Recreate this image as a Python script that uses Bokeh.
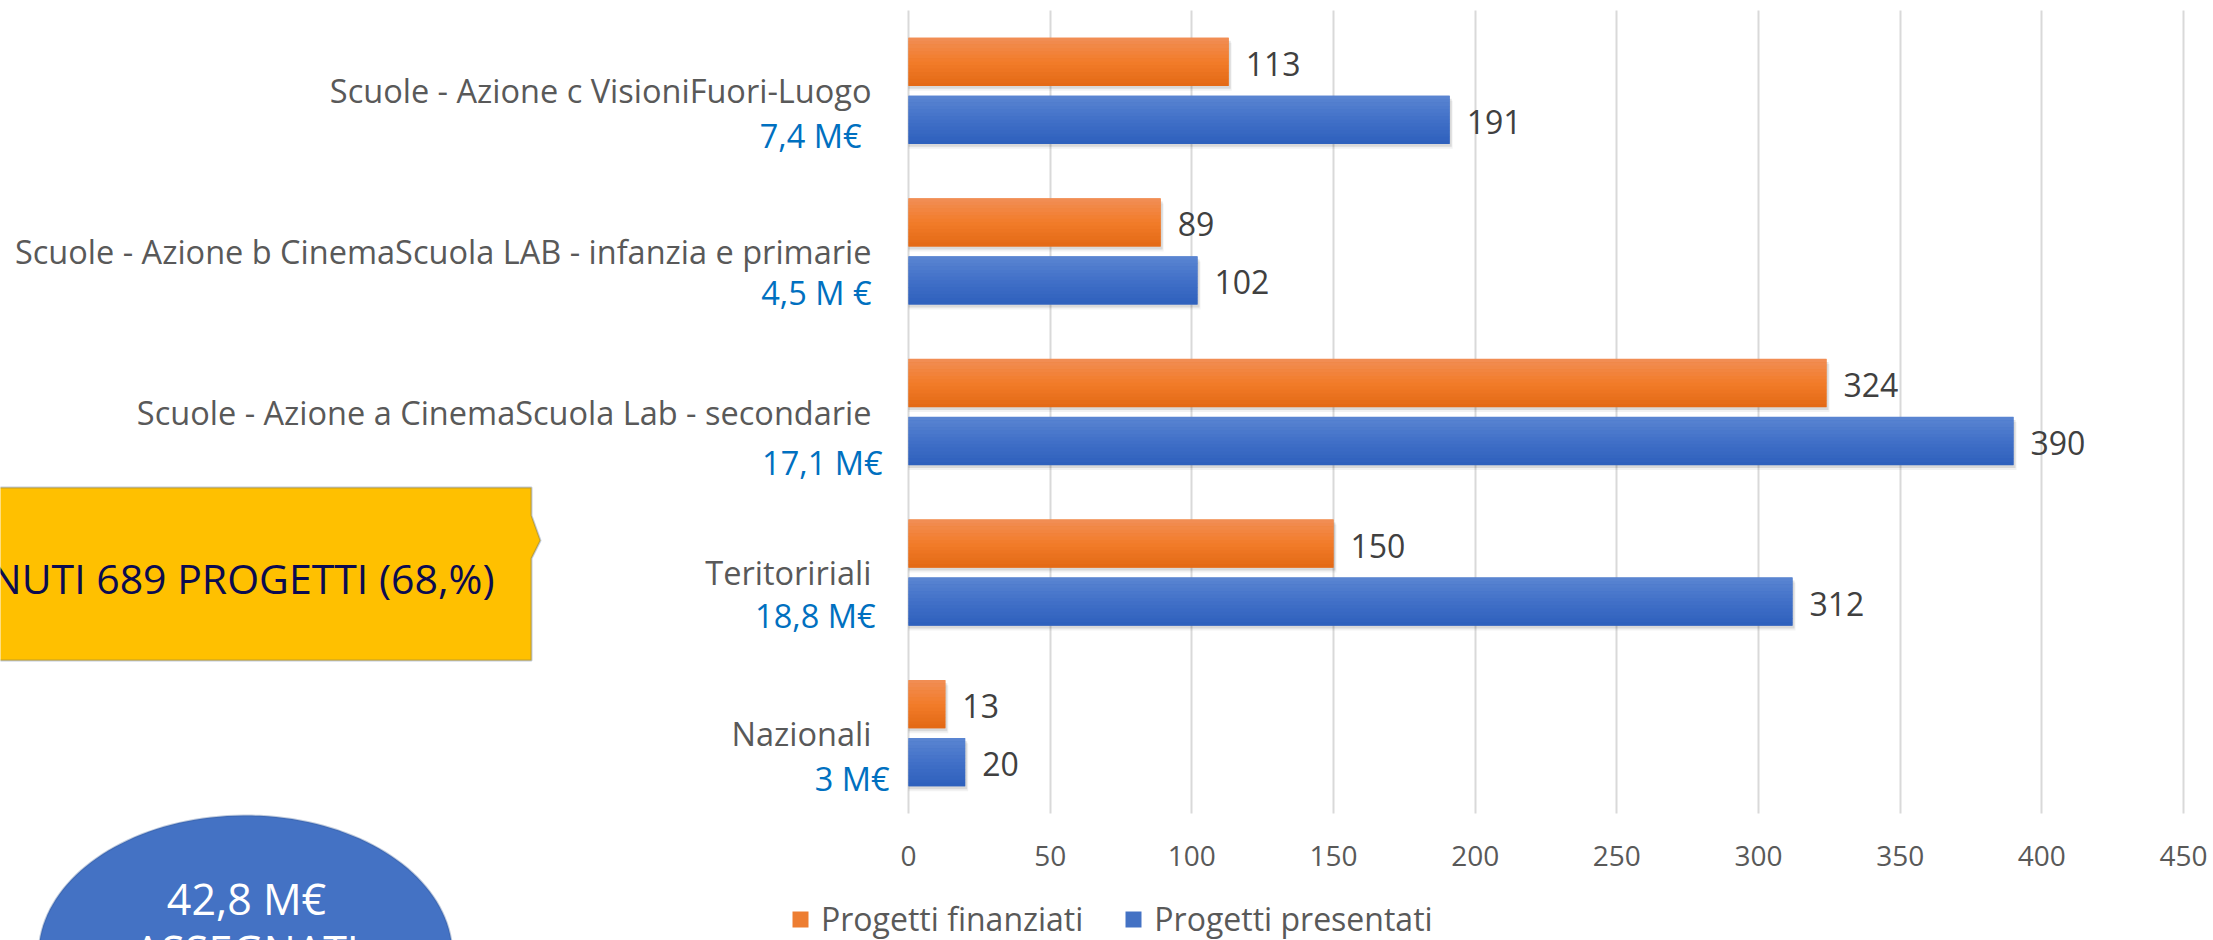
import numpy as np
from bokeh.plotting import figure
from bokeh.models import (Range1d, FixedTicker, ColumnDataSource, LabelSet, Label,
                          PolyAnnotation, Legend, LegendItem)
from bokeh.core.properties import value
from bokeh.embed import file_html
from bokeh.resources import INLINE

# ---------------- data ----------------
categories = [
    "Nazionali",
    "Teritoririali",
    "Scuole - Azione a CinemaScuola Lab - secondarie",
    "Scuole - Azione b CinemaScuola LAB - infanzia e primarie",
    "Scuole - Azione c VisioniFuori-Luogo",
]
budgets = ["3 M€", "18,8 M€", "17,1 M€", "4,5 M €", "7,4 M€"]
finanziati = [13, 150, 324, 89, 113]
presentati = [20, 312, 390, 102, 191]
series_names = ["Progetti finanziati", "Progetti presentati"]
x_ticks = [0, 50, 100, 150, 200, 250, 300, 350, 400, 450]
callout_text = "NUTI 689 PROGETTI (68,%)"
total_lines = ["42,8 M€", "ASSEGNATI"]

# ---------------- layout / style ----------------
FONT = "Open Sans"
W, H = 2213, 940
n = len(categories)
PX0, KX = 908.0, 1275.0 / 450.0     # pixel of value 0, pixels per unit
PY0, KY = 813.0, 803.0 / n          # pixel of category-axis bottom, pixels per band
# small per-label nudges of the budget lines (px): right-edge offset, drop below name
budget_dx = [-19, -33, -26, -37, -47]
budget_dy = [45, 43, 50, 41, 45]


def sx2x(sx):  # pixel -> data x (decorative annotations only)
    return (sx - PX0) / KX


def sy2y(sy):  # pixel -> data y
    return (PY0 - sy) / KY


p = figure(width=W, height=H, output_backend="svg", toolbar_location=None,
           x_range=Range1d(sx2x(0), sx2x(W)), y_range=Range1d(sy2y(H), sy2y(0)),
           y_axis_location=None, min_border_left=0, min_border_right=0,
           min_border_top=0, min_border_bottom=0)
p.outline_line_color = None
p.background_fill_color = "white"
p.border_fill_color = "white"

# value axis drawn at the bottom of the bar area
xax = p.xaxis[0]
xax.fixed_location = 0
xax.ticker = FixedTicker(ticks=x_ticks)
xax.axis_line_color = None
xax.major_tick_line_color = None
xax.minor_tick_line_color = None
xax.major_label_text_font = FONT
xax.major_label_text_font_size = "28px"
xax.major_label_text_color = "#595959"
xax.major_label_standoff = 26
p.xgrid.ticker = FixedTicker(ticks=x_ticks)
p.xgrid.cross_bounds = (0, n)
p.xgrid.grid_line_color = "#D9D9D9"
p.xgrid.grid_line_width = 2
p.ygrid.visible = False

pos = np.arange(n) + 0.5
off = 29 / KY
bh = 48 / KY


def hex2rgb(h):
    h = h.lstrip("#")
    return [int(h[i:i + 2], 16) for i in (0, 2, 4)]


def mix(c1, c2, t):
    a, b = hex2rgb(c1), hex2rgb(c2)
    return "#%02x%02x%02x" % tuple(int(round(a[i] + (b[i] - a[i]) * t)) for i in range(3))


def grad(stops, t):
    if t < 0.5:
        return mix(stops[0], stops[1], t / 0.5)
    return mix(stops[1], stops[2], (t - 0.5) / 0.5)


series = [
    (finanziati, pos + off, ["#F18E56", "#F27C2A", "#E36914"], "#ED7D31"),
    (presentati, pos - off, ["#5B86D2", "#4170C8", "#2E60BC"], "#4472C4"),
]
main_renderers = []
NS = 14
for vals, ys, stops, base in series:
    vals = np.array(vals, dtype=float)
    src = ColumnDataSource(dict(y=ys, right=vals, label=[str(v) for v in vals.astype(int)]))
    # soft shadow
    p.hbar(y=ys - 5 / KY, left=0, right=vals + 3 / KX, height=bh, fill_color="black",
           fill_alpha=0.05, line_color=None)
    p.hbar(y=ys - 3 / KY, left=0, right=vals + 2 / KX, height=bh, fill_color="black",
           fill_alpha=0.10, line_color=None)
    r = p.hbar(y="y", left=0, right="right", height=bh, source=src,
               fill_color=base, line_color=None)
    main_renderers.append(r)
    for i in range(NS):
        t = (i + 0.5) / NS
        p.hbar(y=ys + bh / 2 - t * bh, left=0, right=vals, height=bh / NS * 1.08,
               fill_color=grad(stops, t), line_color=None)
    p.add_layout(LabelSet(x="right", y="y", text="label", source=src, x_offset=17,
                          y_offset=-2, text_baseline="middle", text_font=value(FONT),
                          text_font_size="32px", text_color="#404040"))

# category labels + budgets
cat_src = ColumnDataSource(dict(x=[0] * n, y=pos,
                                yb=pos - np.array(budget_dy) / KY,
                                dx=budget_dx, name=categories, budget=budgets))
p.add_layout(LabelSet(x="x", y="y", text="name", source=cat_src, x_offset=-37,
                      text_align="right", text_baseline="middle", text_font=value(FONT),
                      text_font_size="32.5px", text_color="#595959"))
p.add_layout(LabelSet(x="x", y="yb", text="budget", source=cat_src, x_offset="dx",
                      text_align="right", text_baseline="middle", text_font=value(FONT),
                      text_font_size="32.5px", text_color="#0070C0"))

# legend
legend = Legend(items=[LegendItem(label=series_names[0], renderers=[main_renderers[0]]),
                       LegendItem(label=series_names[1], renderers=[main_renderers[1]])],
                orientation="horizontal", location=(790, 0), glyph_width=20,
                glyph_height=20, label_standoff=11, spacing=40, padding=0, margin=0,
                border_line_color=None, background_fill_alpha=0,
                label_text_font=FONT, label_text_font_size="32px",
                label_text_color="#595959")
p.add_layout(legend, "center")

# callout box
cxs = [sx2x(v) for v in [-20, 531, 531, 540, 531, 531, -20]]
cys = [sy2y(v) for v in [487, 487, 515, 540, 558, 660, 660]]
p.add_layout(PolyAnnotation(xs=cxs, ys=cys, fill_color="#FFC000", fill_alpha=1,
                            line_color="#2F528F", line_width=2))
p.add_layout(Label(x=sx2x(494), y=sy2y(577), text=callout_text, text_align="right",
                   text_baseline="middle", text_font=FONT, text_font_size="41px",
                   text_color="#0B0B50"))

# ellipse with total
tt = np.linspace(0, 2 * np.pi, 160)
exs = [sx2x(245 + 207 * np.cos(a)) for a in tt]
eys = [sy2y(955 + 140 * np.sin(a)) for a in tt]
p.add_layout(PolyAnnotation(xs=exs, ys=eys, fill_color="#4472C4", fill_alpha=1,
                            line_color="#2F528F", line_width=2))
p.add_layout(Label(x=sx2x(246), y=sy2y(898), text=total_lines[0], text_align="center",
                   text_baseline="middle", text_font=FONT, text_font_size="43px",
                   text_color="white"))
p.add_layout(Label(x=sx2x(246), y=sy2y(950), text=total_lines[1], text_align="center",
                   text_baseline="middle", text_font=FONT, text_font_size="43px",
                   text_color="white"))

open("out.html", "w").write(file_html(p, INLINE))
